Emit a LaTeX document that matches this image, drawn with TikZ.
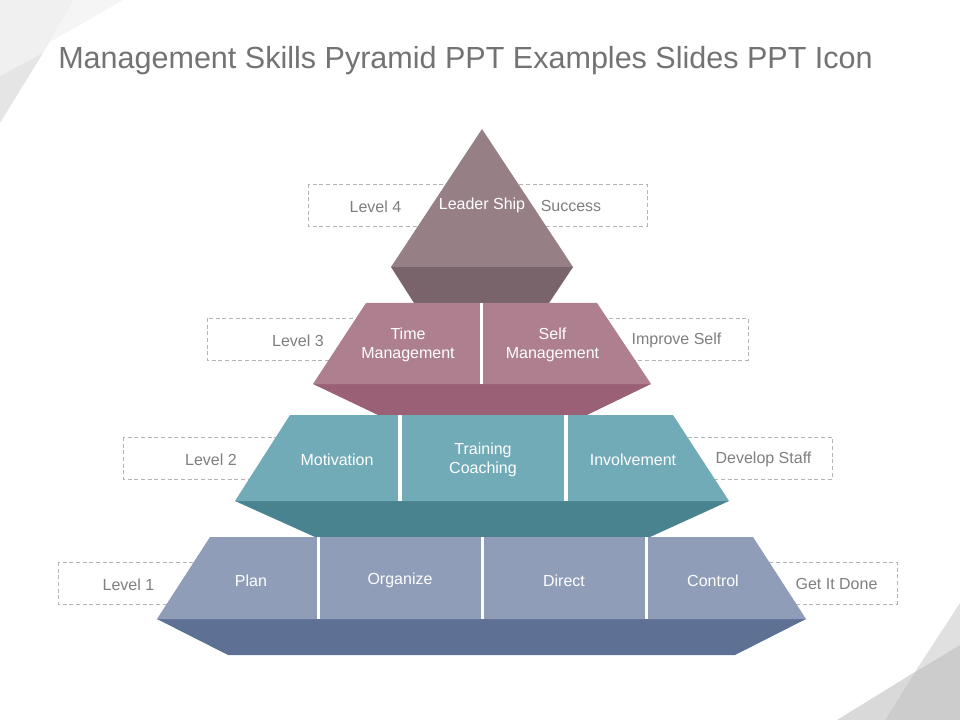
\documentclass[tikz,border=0pt]{standalone}
\usepackage{fontspec}
\setmainfont{Liberation Sans}
\definecolor{titlegray}{HTML}{737373}
\definecolor{sidegray}{HTML}{7F7F7F}
\definecolor{dashgray}{HTML}{B4B4B4}
\definecolor{lvlfour}{HTML}{968086}
\definecolor{lvlfourdark}{HTML}{78646A}
\definecolor{lvlthree}{HTML}{AD7F8F}
\definecolor{lvlthreedark}{HTML}{9A6176}
\definecolor{lvltwo}{HTML}{72ABB8}
\definecolor{lvltwodark}{HTML}{4A8390}
\definecolor{lvlone}{HTML}{8F9DB8}
\definecolor{lvlonedark}{HTML}{5F7095}
\tikzset{
  x=0.75pt, y=-0.75pt,
  treetext/.style = {align=center, inner sep=0pt, text centered, yshift=-0.35pt, font=\fontsize{12}{14.25}\selectfont},
  pyr_t/.style = {treetext, white},
  side_t/.style = {treetext, sidegray},
  dash_box/.style = {draw=dashgray, dash pattern=on 3pt off 2pt, line width=0.5pt},
  sep_line/.style = {draw=white, line width=2.6pt}
}
\begin{document}
\begin{tikzpicture}
\useasboundingbox (0,0) rectangle (960,720);
\fill[white] (0,0) rectangle (960,720);
\fill[black!6] (0,0) -- (74,0) -- (43,53) -- (0,76) -- cycle;
\fill[black!4] (74,0) -- (123,0) -- (50,42) -- cycle;
\fill[black!10] (0,76) -- (43,53) -- (0,123) -- cycle;
\fill[black!12] (960,603) -- (915,672) -- (960,645) -- cycle;
\fill[black!15] (915,672) -- (837,720) -- (885,720) -- cycle;
\fill[black!20] (915,672) -- (885,720) -- (960,720) -- (960,645) -- cycle;
\node (title) [treetext, titlegray, anchor=west, font=\fontsize{22.9}{28}\selectfont] at (58,60) {Management Skills Pyramid PPT Examples Slides PPT Icon};

\draw[dash_box] (308,184) rectangle (647,226);
\draw[dash_box] (207,318) rectangle (748,360);
\draw[dash_box] (123,437) rectangle (832,479);
\draw[dash_box] (58,562) rectangle (897,604);

\fill[lvlfourdark] (391,267) -- (573,267) -- (549,303) -- (414,303) -- cycle;
\fill[lvlfour] (482,129) -- (573,267) -- (391,267) -- cycle;

\fill[lvlthreedark] (313,384) -- (651,384) -- (587,415) -- (378,415) -- cycle;
\fill[lvlthree] (366,303) -- (597,303) -- (651,384) -- (313,384) -- cycle;
\draw[sep_line] (481.5,303) -- (481.5,384);

\fill[lvltwodark] (235,501) -- (729,501) -- (650,537) -- (315,537) -- cycle;
\fill[lvltwo] (290,415) -- (673,415) -- (729,501) -- (235,501) -- cycle;
\draw[sep_line] (400,415) -- (400,501);
\draw[sep_line] (566,415) -- (566,501);

\fill[lvlonedark] (157,619) -- (806,619) -- (735,655) -- (228,655) -- cycle;
\fill[lvlone] (210,537) -- (753,537) -- (806,619) -- (157,619) -- cycle;
\draw[sep_line] (318.5,537) -- (318.5,619);
\draw[sep_line] (482.5,537) -- (482.5,619);
\draw[sep_line] (646.5,537) -- (646.5,619);

\node (lv_four) [side_t] at (375.5,206) {Level 4};
\node (leader) [pyr_t] at (482,205) {Leader Ship};
\node (success) [side_t] at (571,206) {Success};

\node (lv_three) [side_t] at (298,340) {Level 3};
\node (time) [pyr_t] at (408,344) {Time\\Management};
\node (self) [pyr_t] at (552.5,344) {Self\\Management};
\node (improve) [side_t] at (676.5,340) {Improve Self};

\node (lv_two) [side_t] at (211,459) {Level 2};
\node (motiv) [pyr_t] at (337,459) {Motivation};
\node (training) [pyr_t] at (483,459) {Training\\Coaching};
\node (involve) [pyr_t] at (633,459) {Involvement};
\node (develop) [side_t] at (763.5,459) {Develop Staff};

\node (lv_one) [side_t] at (128.5,584) {Level 1};
\node (plan) [pyr_t] at (251,580) {Plan};
\node (organize) [pyr_t] at (400,580) {Organize};
\node (direct) [pyr_t] at (564,580) {Direct};
\node (control) [pyr_t] at (713,580) {Control};
\node (done) [side_t] at (836.5,584) {Get It Done};
\end{tikzpicture}
\end{document}
